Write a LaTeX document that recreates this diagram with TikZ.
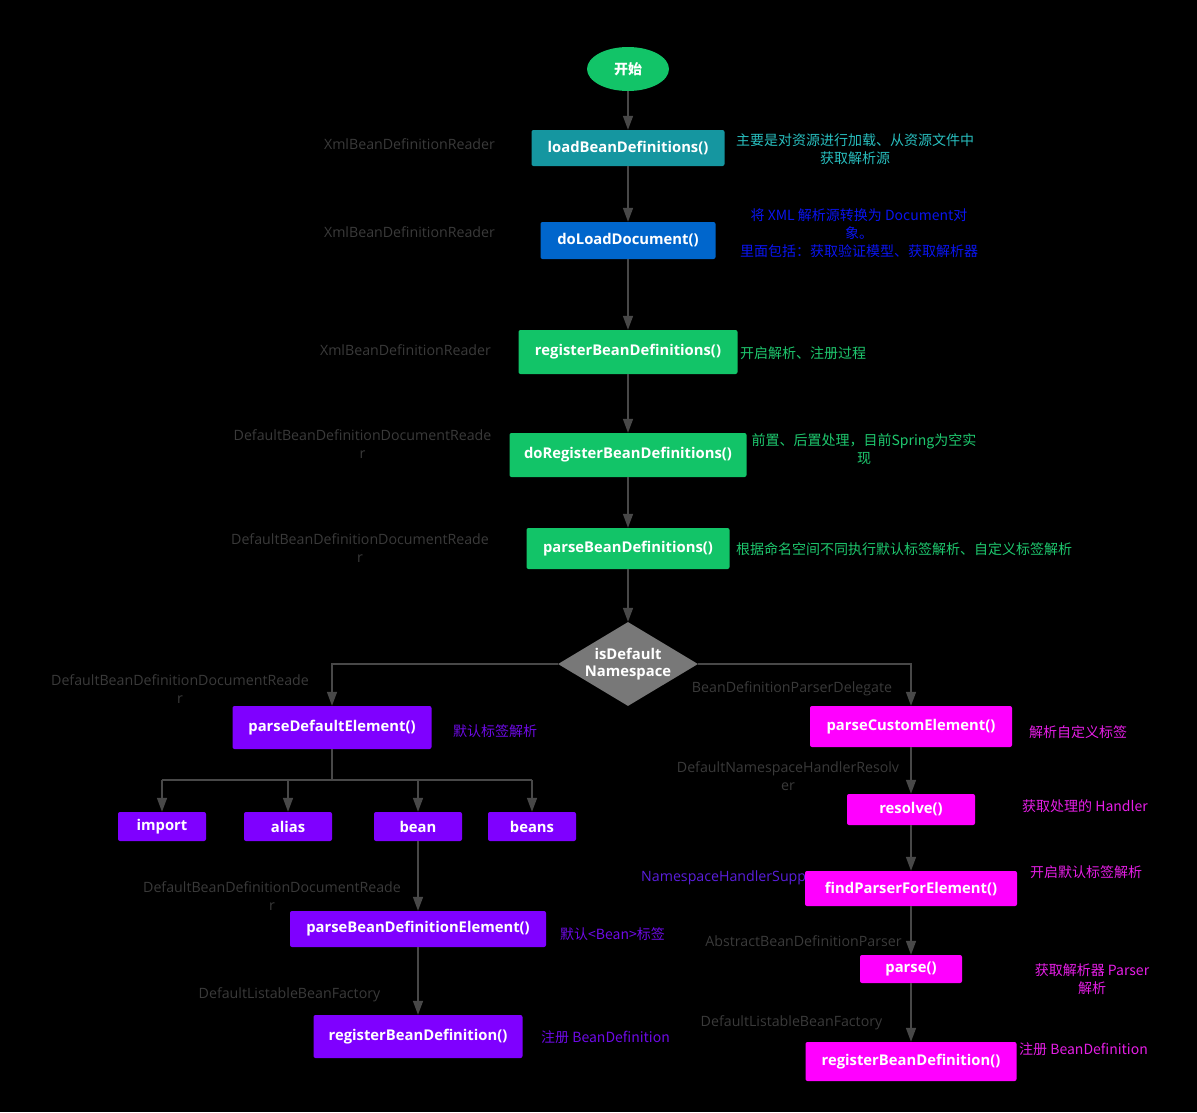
\documentclass[tikz,border=0pt]{standalone}
\usepackage{fontspec}
\setmainfont{Open Sans}
\newfontfamily\cjk{Noto Sans CJK SC}
\usetikzlibrary{arrows.meta,shapes.geometric}
\definecolor{cgreen}{RGB}{18,196,104}
\definecolor{cteal}{RGB}{21,150,160}
\definecolor{cblue}{RGB}{0,102,204}
\definecolor{cpurple}{RGB}{127,0,255}
\definecolor{cmag}{RGB}{255,0,255}
\definecolor{cdia}{RGB}{120,120,120}
\definecolor{cline}{RGB}{72,72,72}
\definecolor{clsgray}{RGB}{58,58,58}
\definecolor{tteal}{RGB}{40,190,190}
\definecolor{tblue}{RGB}{10,20,240}
\definecolor{tgreen}{RGB}{30,200,110}
\definecolor{tpurple}{RGB}{110,10,230}
\definecolor{tmag}{RGB}{230,30,230}
\definecolor{tns}{RGB}{90,30,220}
\tikzset{
  box/.style={rectangle, rounded corners=2pt, inner sep=0pt, text=white,
    font=\fontsize{14.8}{16}\selectfont\bfseries},
  arr/.style={draw=cline, line width=1.6pt, -{Triangle[length=14pt,width=10pt]}},
  plain/.style={draw=cline, line width=1.6pt},
  clsname/.style={text=clsgray, font=\fontsize{14.2}{18}\selectfont, align=center, inner sep=0pt},
  note/.style={font=\cjk\fontsize{14}{18}\selectfont, align=center, inner sep=0pt},
}
\begin{document}
\begin{tikzpicture}[x=1pt,y=-1pt]
\fill[black] (0,0) rectangle (1197,1112);
\useasboundingbox (0,0) rectangle (1197,1112);

% main column
\node[ellipse, fill=cgreen, minimum width=82pt, minimum height=44pt, inner sep=0pt,
  text=white, font=\cjk\fontsize{14}{16}\selectfont\bfseries] (start) at (628,69) {开始};
\node[box, fill=cteal, minimum width=193pt, minimum height=36pt] (load) at (628,148) {loadBeanDefinitions()};
\node[box, fill=cblue, minimum width=175pt, minimum height=37pt] (doload) at (628,240.5) {doLoadDocument()};
\node[box, fill=cgreen, minimum width=219pt, minimum height=44pt] (reg) at (628,352) {registerBeanDefinitions()};
\node[box, fill=cgreen, minimum width=237pt, minimum height=44pt] (doreg) at (628,455) {doRegisterBeanDefinitions()};
\node[box, fill=cgreen, minimum width=203pt, minimum height=41pt] (pbd) at (628,548.5) {parseBeanDefinitions()};
\node[diamond, fill=cdia, minimum width=140pt, minimum height=84pt, inner sep=0pt] (dia) at (628,664) {};
\node[text=white, font=\fontsize{14.8}{17}\selectfont\bfseries, align=center, inner sep=0pt] (diatext) at (dia) {isDefault\\Namespace};

% left branch
\node[box, fill=cpurple, minimum width=199pt, minimum height=43pt] (pde) at (332,727.5) {parseDefaultElement()};
\node[box, fill=cpurple, minimum width=88pt, minimum height=29pt] (imp) at (162,826.5) {import};
\node[box, fill=cpurple, minimum width=88pt, minimum height=29pt] (alias) at (288,826.5) {alias};
\node[box, fill=cpurple, minimum width=88pt, minimum height=29pt] (bean) at (418,826.5) {bean};
\node[box, fill=cpurple, minimum width=88pt, minimum height=29pt] (beans) at (532,826.5) {beans};
\node[box, fill=cpurple, minimum width=256pt, minimum height=36pt] (pbde) at (418,929) {parseBeanDefinitionElement()};
\node[box, fill=cpurple, minimum width=209pt, minimum height=43pt] (rbdl) at (418,1036.5) {registerBeanDefinition()};

% right branch
\node[box, fill=cmag, minimum width=202pt, minimum height=41pt] (pce) at (911,726.5) {parseCustomElement()};
\node[box, fill=cmag, minimum width=128pt, minimum height=31pt] (res) at (911,809.5) {resolve()};
\node[clsname, text=tns, anchor=west] (nhs) at (641,878) {NamespaceHandlerSupp};
\node[box, fill=cmag, minimum width=212pt, minimum height=35pt] (fpe) at (911,888.5) {findParserForElement()};
\node[box, fill=cmag, minimum width=102pt, minimum height=28pt] (parse) at (911,969) {parse()};
\node[box, fill=cmag, minimum width=211pt, minimum height=39pt] (rbdr) at (911,1061.5) {registerBeanDefinition()};

% connectors
\draw[arr] (start) -- (load);
\draw[arr] (load) -- (doload);
\draw[arr] (doload) -- (reg);
\draw[arr] (reg) -- (doreg);
\draw[arr] (doreg) -- (pbd);
\draw[arr] (pbd) -- (dia);
\draw[arr] (dia.west) -| (pde.north);
\draw[arr] (dia.east) -| (pce.north);
\coordinate (j) at (332,780);
\draw[plain] (pde.south) -- (j);
\draw[plain] (j -| imp.north) -- (j -| beans.north);
\draw[arr] (j -| imp.north) -- (imp.north);
\draw[arr] (j -| alias.north) -- (alias.north);
\draw[arr] (j -| bean.north) -- (bean.north);
\draw[arr] (j -| beans.north) -- (beans.north);
\draw[arr] (bean) -- (pbde);
\draw[arr] (pbde) -- (rbdl);
\draw[arr] (pce) -- (res);
\draw[arr] (res) -- (fpe);
\draw[arr] (fpe) -- (parse);
\draw[arr] (parse) -- (rbdr);

% class names
\node[clsname] (c1) at (409.5,144) {XmlBeanDefinitionReader};
\node[clsname] (c2) at (409.5,232) {XmlBeanDefinitionReader};
\node[clsname] (c3) at (405.5,350) {XmlBeanDefinitionReader};
\node[clsname] (c4) at (362.5,444) {DefaultBeanDefinitionDocumentReade\\r};
\node[clsname] (c5) at (360,548.5) {DefaultBeanDefinitionDocumentReade\\r};
\node[clsname] (c6) at (180,689) {DefaultBeanDefinitionDocumentReade\\r};
\node[clsname] (c7) at (792,689) {BeanDefinitionParserDelegate};
\node[clsname] (c8) at (788,776.5) {DefaultNamespaceHandlerResolv\\er};
\node[clsname] (c10) at (272,896) {DefaultBeanDefinitionDocumentReade\\r};
\node[clsname] (c11) at (803.5,941) {AbstractBeanDefinitionParser};
\node[clsname] (c12) at (289.5,995) {DefaultListableBeanFactory};
\node[clsname] (c13) at (791.5,1023) {DefaultListableBeanFactory};

% notes
\node[note, text=tteal] (n1) at (855,149) {主要是对资源进行加载、从资源文件中\\获取解析源};
\node[note, text=tblue] (n2) at (859,233) {将 XML 解析源转换为 Document对\\象。\\里面包括：获取验证模型、获取解析器};
\node[note, text=tgreen, anchor=west] (n3) at (740,353) {开启解析、注册过程};
\node[note, text=tgreen] (n4) at (864,449.5) {前置、后置处理，目前Spring为空实\\现};
\node[note, text=tgreen, anchor=west] (n5) at (736,549) {根据命名空间不同执行默认标签解析、自定义标签解析};
\node[note, text=tpurple, anchor=west] (n6) at (453,731) {默认标签解析};
\node[note, text=tmag, anchor=west] (n7) at (1029,732) {解析自定义标签};
\node[note, text=tmag, anchor=west] (n8) at (1022,806) {获取处理的 Handler};
\node[note, text=tmag, anchor=west] (n9) at (1030,872) {开启默认标签解析};
\node[note, text=tmag] (n10) at (1092,979.5) {获取解析器 Parser\\解析};
\node[note, text=tpurple, anchor=west] (n11) at (560,934) {默认<Bean>标签};
\node[note, text=tpurple, anchor=west] (n12) at (541,1037) {注册 BeanDefinition};
\node[note, text=tmag, anchor=west] (n13) at (1019,1049) {注册 BeanDefinition};
\end{tikzpicture}
\end{document}
